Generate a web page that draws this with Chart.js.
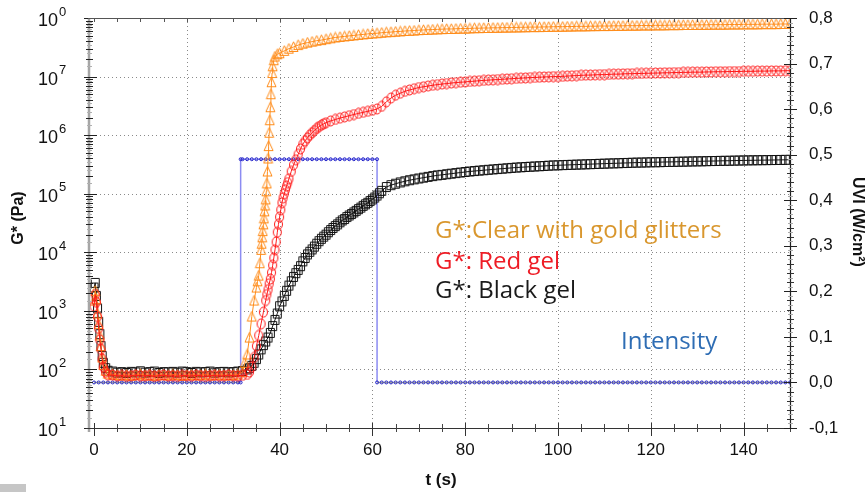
<!DOCTYPE html>
<html>
<head>
<meta charset="utf-8">
<script src="https://cdn.jsdelivr.net/npm/chart.js@4.4.1/dist/chart.umd.min.js"></script>
<style>
  html, body { margin: 0; padding: 0; background: #fff; }
  #wrap { width: 868px; height: 492px; position: relative; }
</style>
</head>
<body>
<div id="wrap"><canvas id="rheo"></canvas></div>
<script>
// time bases (s)
const tEarly = [0, 0.25, 0.5, 0.75, 1, 1.25, 1.5, 1.75, 2, 2.5, 3];
const tFlat = [4, 5, 6, 7, 8, 9, 10, 11, 12, 13, 14, 15, 16, 17, 18, 19, 20, 21, 22, 23, 24, 25, 26, 27, 28, 29, 30, 31, 32];
const tClearRise = [32.5, 33, 33.5, 34, 34.5, 35, 35.25, 35.5, 35.75, 36, 36.125, 36.25, 36.375, 36.5, 36.625,
  36.75, 36.875, 37, 37.125, 37.25, 37.375, 37.5, 37.625, 37.75, 37.875, 38, 38.125, 38.25, 38.375, 38.5, 38.75, 39, 39.5];
const tRedRise = [33, 33.5, 34, 34.5, 35, 35.5, 36, 36.5, 37,
  37.25, 37.5, 37.75, 38, 38.25, 38.5, 38.75, 39, 39.25, 39.5, 39.75, 40, 40.25, 40.5, 40.75, 41, 41.25, 41.5, 41.75,
  42, 42.5, 43, 43.5, 44, 44.5, 45, 45.5, 46, 46.5, 47, 47.5, 48, 48.5, 49, 49.5];
const tBlackRise = [33, 33.5, 34, 34.5, 35, 35.5, 36, 36.5, 37, 37.5, 38, 38.5, 39, 39.5, 40, 40.5, 41, 41.5, 42, 42.5,
  43, 43.5, 44, 44.5, 45, 45.5, 46, 46.5, 47, 47.5, 48, 48.5, 49, 49.5, 50, 50.5, 51, 51.5, 52, 52.5,
  53, 53.5, 54, 54.5, 55, 55.5, 56, 56.5, 57, 57.5, 58, 58.5, 59, 59.5, 60, 60.5, 61, 61.5, 62];
const tLate = [40, 41, 42, 43, 44, 45, 46, 47, 48, 49, 50, 51, 52, 53, 54, 55, 56, 57, 58, 59,
  60, 61, 62, 63, 64, 65, 66, 67, 68, 69, 70, 71, 72, 73, 74, 75, 76, 77, 78, 79,
  80, 81, 82, 83, 84, 85, 86, 87, 88, 89, 90, 91, 92, 93, 94, 95, 96, 97, 98, 99,
  100, 101, 102, 103, 104, 105, 106, 107, 108, 109, 110, 111, 112, 113, 114, 115, 116, 117, 118, 119,
  120, 121, 122, 123, 124, 125, 126, 127, 128, 129, 130, 131, 132, 133, 134, 135, 136, 137, 138, 139,
  140, 141, 142, 143, 144, 145, 146, 147, 148, 149, 150];

const tClear = [...tEarly, ...tFlat, ...tClearRise, ...tLate];
const tRed = [...tEarly, ...tFlat, ...tRedRise, ...tLate.filter(t => t >= 50)];
const tBlack = [...tEarly, ...tFlat, ...tBlackRise, ...tLate.filter(t => t >= 63)];

// G* (Pa)
const gClear = [
  1500, 2200, 1600, 900, 600, 380, 250, 160, 120, 95, 85,
  82, 80, 79, 81, 78, 80, 83, 79, 80, 78, 81, 80, 79, 82, 80, 78, 80, 81, 79, 80, 82, 79, 80, 81, 80, 79, 80, 82, 90,
  130, 180, 350, 800, 1500, 2500, 3200, 4000, 6500, 1.1e4, 1.4e4, 1.8e4, 2.3e4, 3e4, 3.8e4,
  5e4, 6.3e4, 8e4, 1.1e5, 1.5e5, 2.4e5, 4e5, 6.5e5, 1.1e6, 1.8e6, 3e6, 5e6, 8e6, 1.15e7, 1.5e7, 1.9e7, 2.2e7, 2.4e7,
  2.5e7, 2.75e7, 3.0e7, 3.2e7, 3.45e7, 3.65e7, 3.8e7, 3.95e7, 4.1e7, 4.2e7,
  4.35e7, 4.5e7, 4.65e7, 4.75e7, 4.85e7, 4.95e7, 5.05e7, 5.15e7, 5.25e7, 5.35e7,
  5.45e7, 5.5e7, 5.6e7, 5.7e7, 5.75e7, 5.85e7, 5.9e7, 6.0e7, 6.05e7, 6.1e7,
  6.2e7, 6.25e7, 6.3e7, 6.35e7, 6.4e7, 6.45e7, 6.5e7, 6.5e7, 6.55e7, 6.6e7,
  6.6e7, 6.65e7, 6.7e7, 6.7e7, 6.75e7, 6.75e7, 6.8e7, 6.8e7, 6.85e7, 6.85e7,
  6.9e7, 6.9e7, 6.95e7, 6.95e7, 7.0e7, 7.0e7, 7.0e7, 7.05e7, 7.05e7, 7.1e7,
  7.1e7, 7.1e7, 7.15e7, 7.15e7, 7.2e7, 7.2e7, 7.2e7, 7.25e7, 7.25e7, 7.3e7,
  7.3e7, 7.3e7, 7.35e7, 7.35e7, 7.35e7, 7.4e7, 7.4e7, 7.4e7, 7.45e7, 7.45e7,
  7.45e7, 7.5e7, 7.5e7, 7.5e7, 7.55e7, 7.55e7, 7.55e7, 7.6e7, 7.6e7, 7.6e7,
  7.65e7, 7.65e7, 7.65e7, 7.7e7, 7.7e7, 7.7e7, 7.7e7, 7.75e7, 7.75e7, 7.75e7,
  7.8e7, 7.8e7, 7.8e7, 7.8e7, 7.85e7, 7.85e7, 7.85e7, 7.85e7, 7.9e7, 7.9e7, 7.9e7
];
const gRed = [
  1200, 1900, 1400, 800, 500, 320, 220, 150, 110, 90, 80,
  80, 77, 79, 76, 78, 80, 77, 78, 79, 76, 78, 80, 77, 78, 76, 79, 78, 77, 80, 78, 76, 78, 79, 77, 78, 80, 78, 77, 79,
  82, 90, 110, 160, 250, 380, 600, 950, 1500,
  1900, 2300, 2900, 3500, 4500, 6000, 8000, 1.1e4, 1.5e4, 2.2e4, 3e4, 4e4, 5.3e4, 7e4, 8.5e4, 1e5, 1.17e5, 1.35e5, 1.55e5,
  1.8e5, 2.4e5, 3.1e5, 3.8e5, 4.7e5, 5.8e5, 7e5, 8e5, 9e5, 1e6, 1.1e6, 1.2e6, 1.3e6, 1.4e6, 1.48e6, 1.56e6,
  1.63e6, 1.75e6, 1.85e6, 1.95e6, 2.05e6, 2.15e6, 2.25e6, 2.35e6, 2.45e6, 2.55e6,
  2.65e6, 2.8e6, 3.1e6, 3.7e6, 4.3e6, 4.8e6, 5.2e6, 5.6e6, 5.9e6, 6.2e6,
  6.5e6, 6.7e6, 6.9e6, 7.1e6, 7.3e6, 7.45e6, 7.6e6, 7.75e6, 7.9e6, 8.0e6,
  8.1e6, 8.25e6, 8.35e6, 8.5e6, 8.6e6, 8.7e6, 8.8e6, 8.9e6, 9.0e6, 9.1e6,
  9.2e6, 9.3e6, 9.4e6, 9.5e6, 9.6e6, 9.65e6, 9.75e6, 9.85e6, 9.9e6, 1.0e7,
  1.0e7, 1.01e7, 1.02e7, 1.03e7, 1.04e7, 1.05e7, 1.06e7, 1.06e7, 1.07e7, 1.08e7,
  1.08e7, 1.09e7, 1.1e7, 1.1e7, 1.11e7, 1.12e7, 1.12e7, 1.13e7, 1.13e7, 1.14e7,
  1.14e7, 1.15e7, 1.15e7, 1.16e7, 1.16e7, 1.17e7, 1.17e7, 1.18e7, 1.18e7, 1.19e7,
  1.19e7, 1.19e7, 1.2e7, 1.2e7, 1.21e7, 1.21e7, 1.21e7, 1.22e7, 1.22e7, 1.22e7,
  1.23e7, 1.23e7, 1.23e7, 1.24e7, 1.24e7, 1.24e7, 1.25e7, 1.25e7, 1.25e7, 1.26e7, 1.26e7
];
const gBlack = [
  2500, 3000, 1800, 1100, 650, 400, 250, 170, 130, 105, 95,
  92, 88, 90, 87, 91, 89, 93, 88, 90, 92, 87, 90, 89, 91, 88, 92, 90, 87, 91, 89, 90, 92, 88, 90, 91, 89, 90, 92, 94,
  100, 105, 115, 130, 150, 180, 220, 260, 300, 350, 420, 550, 700, 900, 1200, 1450, 1800, 2200, 2700, 3200,
  3800, 4400, 5000, 5800, 7000, 8000, 9200, 1.02e4, 1.12e4, 1.25e4, 1.4e4, 1.55e4, 1.7e4, 1.85e4, 2e4, 2.2e4, 2.4e4, 2.6e4, 2.8e4, 3e4,
  3.25e4, 3.5e4, 3.7e4, 4e4, 4.25e4, 4.5e4, 4.8e4, 5.1e4, 5.45e4, 5.8e4, 6.2e4, 6.6e4, 7e4, 7.5e4, 8e4, 8.6e4, 9.3e4, 1.02e5, 1.12e5,
  1.3e5, 1.4e5, 1.48e5, 1.56e5, 1.63e5, 1.7e5, 1.76e5,
  1.82e5, 1.88e5, 1.94e5, 2.0e5, 2.06e5, 2.1e5, 2.15e5, 2.2e5, 2.25e5, 2.3e5,
  2.35e5, 2.4e5, 2.44e5, 2.48e5, 2.52e5, 2.56e5, 2.6e5, 2.64e5, 2.68e5, 2.72e5,
  2.76e5, 2.8e5, 2.83e5, 2.86e5, 2.89e5, 2.92e5, 2.95e5, 2.98e5, 3.01e5, 3.04e5,
  3.06e5, 3.08e5, 3.1e5, 3.12e5, 3.14e5, 3.16e5, 3.18e5, 3.2e5, 3.22e5, 3.24e5,
  3.26e5, 3.28e5, 3.3e5, 3.32e5, 3.34e5, 3.36e5, 3.38e5, 3.4e5, 3.41e5, 3.42e5,
  3.44e5, 3.45e5, 3.46e5, 3.48e5, 3.49e5, 3.5e5, 3.52e5, 3.53e5, 3.54e5, 3.56e5,
  3.57e5, 3.58e5, 3.6e5, 3.61e5, 3.62e5, 3.64e5, 3.65e5, 3.66e5, 3.68e5, 3.69e5,
  3.7e5, 3.71e5, 3.72e5, 3.73e5, 3.74e5, 3.75e5, 3.76e5, 3.77e5, 3.78e5, 3.79e5, 3.8e5
];

// UV intensity (W/cm2)
const tUv = [0, 1, 2, 3, 4, 5, 6, 7, 8, 9, 10, 11, 12, 13, 14, 15, 16, 17, 18, 19, 20, 21, 22, 23, 24, 25, 26, 27, 28, 29, 30, 31,
  31.6, 31.6, 32, 33, 34, 35, 36, 37, 38, 39, 40, 41, 42, 43, 44, 45, 46, 47, 48, 49, 50, 51, 52, 53, 54, 55, 56, 57, 58, 59, 60,
  61, 61, 62, 63, 64, 65, 66, 67, 68, 69, 70, 71, 72, 73, 74, 75, 76, 77, 78, 79, 80, 81, 82, 83, 84, 85, 86, 87, 88, 89,
  90, 91, 92, 93, 94, 95, 96, 97, 98, 99, 100, 101, 102, 103, 104, 105, 106, 107, 108, 109, 110, 111, 112, 113, 114, 115, 116, 117, 118, 119,
  120, 121, 122, 123, 124, 125, 126, 127, 128, 129, 130, 131, 132, 133, 134, 135, 136, 137, 138, 139, 140, 141, 142, 143, 144, 145, 146, 147, 148, 149, 150];
const uvi = [0, 0, 0, 0, 0, 0, 0, 0, 0, 0, 0, 0, 0, 0, 0, 0, 0, 0, 0, 0, 0, 0, 0, 0, 0, 0, 0, 0, 0, 0, 0, 0,
  0, 0.49, 0.49, 0.49, 0.49, 0.49, 0.49, 0.49, 0.49, 0.49, 0.49, 0.49, 0.49, 0.49, 0.49, 0.49, 0.49, 0.49, 0.49, 0.49, 0.49, 0.49, 0.49, 0.49, 0.49, 0.49, 0.49, 0.49, 0.49, 0.49, 0.49,
  0.49, 0, 0, 0, 0, 0, 0, 0, 0, 0, 0, 0, 0, 0, 0, 0, 0, 0, 0, 0, 0, 0, 0, 0, 0, 0, 0, 0, 0, 0,
  0, 0, 0, 0, 0, 0, 0, 0, 0, 0, 0, 0, 0, 0, 0, 0, 0, 0, 0, 0, 0, 0, 0, 0, 0, 0, 0, 0, 0, 0,
  0, 0, 0, 0, 0, 0, 0, 0, 0, 0, 0, 0, 0, 0, 0, 0, 0, 0, 0, 0, 0, 0, 0, 0, 0, 0, 0, 0, 0, 0, 0];

// axes
const xTicks = [0, 20, 40, 60, 80, 100, 120, 140];
const yDecades = [1e1, 1e2, 1e3, 1e4, 1e5, 1e6, 1e7, 1e8];
const yExponents = ['1', '2', '3', '4', '5', '6', '7', '0'];

const legendLines = [
  { text: 'G*:Clear with gold glitters', color: '#d9972e', x: 435, y: 238 },
  { text: 'G*: Red gel', color: '#ee1c25', x: 435, y: 269 },
  { text: 'G*: Black gel', color: '#1a1a1a', x: 435, y: 298 },
  { text: 'Intensity', color: '#2e6db4', x: 621, y: 349 }
];

const ARIAL = '"Liberation Sans", Arial, sans-serif';

function pts(ts, vs) {
  return ts.map((t, i) => ({ x: t, y: vs[i] }));
}

// hollow marker images (slightly taller than wide, as in the source plot)
function marker(kind, color) {
  const c = document.createElement('canvas');
  c.width = 11; c.height = 12;
  const g = c.getContext('2d');
  g.strokeStyle = color;
  g.lineWidth = 1;
  g.beginPath();
  if (kind === 'circle') g.ellipse(5.5, 6, 4, 5, 0, 0, Math.PI * 2);
  else if (kind === 'triangle') { g.moveTo(5.5, 0.8); g.lineTo(10, 10.5); g.lineTo(1, 10.5); g.closePath(); }
  else g.rect(1.5, 1.5, 8, 9);
  g.stroke();
  return c;
}

// keep tick-label padding from pushing the plot area down
function fixWidth(w) {
  return s => { s.width = w; s.paddingTop = 0; s.paddingBottom = 0; };
}

const framePlugin = {
  id: 'frame',
  beforeDatasetsDraw(chart) {
    const { ctx, chartArea: a, scales: { x, y } } = chart;
    ctx.save();
    ctx.strokeStyle = '#8a8a8a';
    ctx.lineWidth = 1;
    ctx.setLineDash([1, 3]);
    ctx.beginPath();
    xTicks.filter(v => v > 0).forEach(v => {
      const px = Math.round(x.getPixelForValue(v)) + 0.5;
      ctx.moveTo(px, a.top); ctx.lineTo(px, a.bottom);
    });
    yDecades.slice(1, -1).forEach(v => {
      const py = Math.round(y.getPixelForValue(v)) + 0.5;
      ctx.moveTo(a.left, py); ctx.lineTo(a.right, py);
    });
    ctx.stroke();
    ctx.restore();
  },
  afterDatasetsDraw(chart) {
    const { ctx, chartArea: a, scales: { x, y, y1 } } = chart;
    ctx.save();
    const seg = (x0, y0, x1, y2, color, w) => {
      ctx.strokeStyle = color; ctx.lineWidth = w || 1;
      ctx.beginPath(); ctx.moveTo(x0, y0); ctx.lineTo(x1, y2); ctx.stroke();
    };
    // left axis (grey bar with ticks)
    seg(a.left + 1, a.top, a.left + 1, a.bottom + 4, '#a6a6a6', 2.5);
    for (let d = 1; d <= 7; d++) {
      for (let k = 2; k <= 9; k++) {
        const py = Math.round(y.getPixelForValue(k * Math.pow(10, d))) + 0.5;
        seg(a.left - 2, py, a.left + 5, py, '#222', 1);
        const pg = Math.round(y.getPixelForValue((k - 0.5) * Math.pow(10, d))) + 0.5;
        seg(a.left - 1, pg, a.left + 4, pg, '#b0b0b0', 1);
      }
    }
    yDecades.forEach(v => {
      const py = Math.round(y.getPixelForValue(v)) + 0.5;
      seg(a.left - 4, py, a.left + 9, py, '#222', 1);
    });
    // top and bottom lines
    seg(a.left, a.top + 0.5, a.right, a.top + 0.5, '#555', 1);
    seg(a.left - 2, a.bottom + 0.5, a.right, a.bottom + 0.5, '#333', 1.2);
    for (let t = 0; t <= 150; t += 5) {
      const px = Math.round(x.getPixelForValue(t)) + 0.5;
      const major = t % 20 === 0;
      seg(px, a.bottom - (major ? 5 : 4), px, a.bottom + (major ? 8 : 4), major ? '#333' : '#444', 1);
      seg(px, a.top, px, a.top + 4, '#555', 1);
    }
    // right axis
    seg(a.right + 0.5, a.top, a.right + 0.5, a.bottom, '#222', 1.2);
    for (let i = -10; i <= 80; i++) {
      const v = i / 100;
      const py = Math.round(y1.getPixelForValue(v)) + 0.5;
      if (i % 10 === 0) seg(a.right - 6, py, a.right + 7, py, '#222', 1);
      else if (i % 2 === 0) seg(a.right - 3, py, a.right + 4, py, '#333', 1);
      else seg(a.right - 2, py, a.right + 3, py, '#aaa', 1);
    }
    ctx.restore();
  },
  afterDraw(chart) {
    const { ctx, scales: { y } } = chart;
    ctx.save();
    // log tick labels with superscript
    ctx.fillStyle = '#111';
    ctx.textBaseline = 'middle';
    yDecades.forEach((v, i) => {
      const py = y.getPixelForValue(v);
      ctx.font = '18px ' + ARIAL;
      ctx.textAlign = 'left';
      ctx.fillText('10', 38, py + 3);
      ctx.font = '13px ' + ARIAL;
      ctx.fillText(yExponents[i], 59, py - 6);
    });
    // axis titles
    ctx.font = 'bold 16px ' + ARIAL;
    ctx.textAlign = 'center';
    ctx.save();
    ctx.translate(19, 218);
    ctx.rotate(-Math.PI / 2);
    ctx.fillText('G* (Pa)', 0, 0);
    ctx.restore();
    ctx.save();
    ctx.translate(857, 222);
    ctx.rotate(Math.PI / 2);
    ctx.fillText('UVI (W/cm²)', 0, 0);
    ctx.restore();
    ctx.font = 'bold 17px ' + ARIAL;
    ctx.fillText('t (s)', 441, 480);
    // series captions
    ctx.font = '24px "Open Sans", "Noto Sans", sans-serif';
    ctx.textAlign = 'left';
    ctx.textBaseline = 'alphabetic';
    legendLines.forEach(l => {
      ctx.fillStyle = l.color;
      ctx.fillText(l.text, l.x, l.y);
    });
    // grey tab bottom left
    ctx.fillStyle = '#c6c6c6';
    ctx.fillRect(0, 484, 26, 8);
    ctx.restore();
  }
};

const hollow = 'rgba(0,0,0,0)';

new Chart(document.getElementById('rheo'), {
  type: 'scatter',
  data: {
    datasets: [
      {
        label: 'G*: Red gel', data: pts(tRed, gRed), yAxisID: 'y', showLine: true, order: 0,
        borderColor: '#ff1a1a', borderWidth: 1, pointStyle: marker('circle', '#ff1a1a'), pointRadius: 5
      },
      {
        label: 'G*:Clear with gold glitters', data: pts(tClear, gClear), yAxisID: 'y', showLine: true, order: 1,
        borderColor: '#ff8c1a', borderWidth: 1, pointStyle: marker('triangle', '#ff8c1a'), pointRadius: 5
      },
      {
        label: 'G*: Black gel', data: pts(tBlack, gBlack), yAxisID: 'y', showLine: true, order: 2,
        borderColor: '#111', borderWidth: 1, pointStyle: marker('rect', '#111'), pointRadius: 5
      },
      {
        label: 'Intensity', data: pts(tUv, uvi), yAxisID: 'y1', showLine: true, order: 3,
        borderWidth: 1.5, borderColor: '#8c8cf2',
        segment: { borderColor: c => (c.p0.parsed.y === 0 && c.p1.parsed.y === 0) ? '#9c9c9c' : '#8c8cf2' },
        pointStyle: 'circle', pointRadius: 1.5, pointBorderColor: '#2424c8', pointBackgroundColor: hollow, pointBorderWidth: 1
      }
    ]
  },
  options: {
    responsive: true,
    maintainAspectRatio: false,
    animation: false,
    devicePixelRatio: 1,
    layout: { padding: { top: 18, left: 0, right: 0, bottom: 0 } },
    plugins: { legend: { display: false }, tooltip: { enabled: false } },
    scales: {
      x: {
        type: 'linear', min: -1.3, max: 150,
        grid: { display: false, drawTicks: false },
        border: { display: false },
        afterBuildTicks: s => { s.ticks = xTicks.map(v => ({ value: v })); },
        afterFit: s => { s.height = 64; },
        ticks: { color: '#111', padding: 12, maxRotation: 0, font: { family: ARIAL, size: 17 } }
      },
      y: {
        type: 'logarithmic', position: 'left', min: 10, max: 1e8,
        grid: { display: false, drawTicks: false },
        border: { display: false },
        ticks: { display: false },
        afterFit: fixWidth(88)
      },
      y1: {
        type: 'linear', position: 'right', min: -0.1, max: 0.8,
        grid: { display: false, drawTicks: false },
        border: { display: false },
        afterFit: fixWidth(78),
        ticks: {
          stepSize: 0.1, color: '#111', padding: 19, font: { family: ARIAL, size: 17 },
          callback: v => v.toFixed(1).replace('.', ',')
        }
      }
    }
  },
  plugins: [framePlugin]
});
</script>
</body>
</html>
